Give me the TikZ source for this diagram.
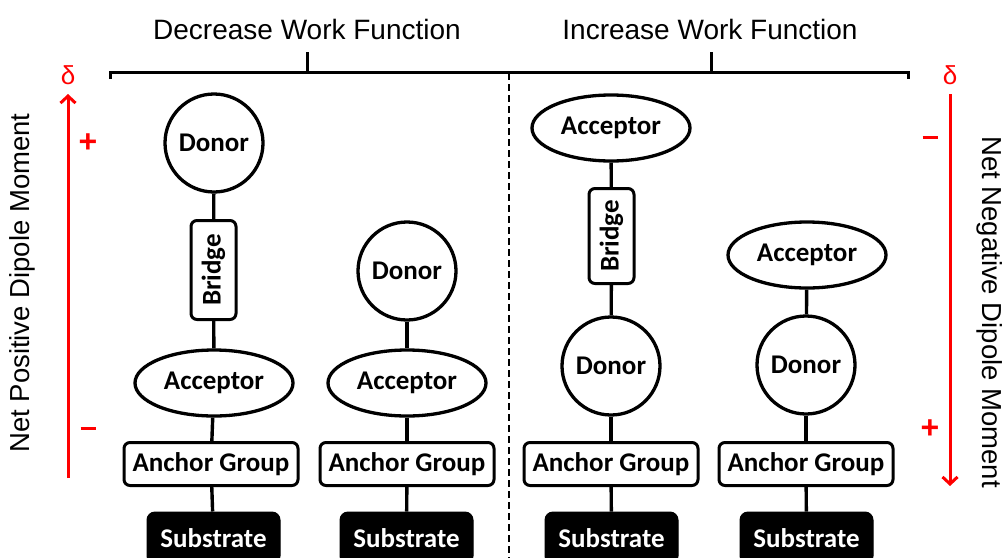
\documentclass[tikz,border=0pt]{standalone}
\usepackage{fontspec}
\setmainfont{Liberation Sans}
\newfontfamily\lblfont{Carlito}
\usetikzlibrary{shapes.geometric,arrows.meta}
\begin{document}
\begin{tikzpicture}[x=1pt,y=-1pt,
  lbl/.style={font=\lblfont\bfseries\fontsize{27}{29}\selectfont, text=black},
  donorc/.style={lbl, circle, draw, line width=3.3pt, minimum size=98pt, inner sep=0pt},
  accel/.style={lbl, ellipse, draw, line width=3.3pt, minimum width=158pt, minimum height=66pt, inner sep=0pt},
  bridgebox/.style={lbl, draw, line width=3pt, rounded corners=6pt, minimum width=45pt, inner sep=0pt},
  anchorbox/.style={lbl, draw, line width=3pt, rounded corners=6pt, minimum width=174pt, minimum height=43pt, inner sep=0pt},
  subbox/.style={lbl, text=white, fill=black, draw=black, line width=1pt, rounded corners=8pt, minimum width=133pt, minimum height=52pt, inner sep=0pt},
  link/.style={line width=3.4pt},
  brk/.style={line width=3pt},
  title/.style={font=\fontsize{28}{30}\selectfont, anchor=base},
  redmark/.style={text=red, font=\bfseries\fontsize{32}{34}\selectfont},
  redarrow/.style={red, line width=3pt},
  side/.style={font=\fontsize{27.5}{30}\selectfont}
]
\useasboundingbox (0,0) rectangle (1008,557);

% titles and bracket
\node[title] (t1) at (307,39) {Decrease Work Function};
\node[title] (t2) at (710,39) {Increase Work Function};
\coordinate (bl) at (110,79);
\coordinate (blt) at (110,72);
\coordinate (br) at (908,79);
\coordinate (brt) at (908,72);
\coordinate (k1a) at (307,52);
\coordinate (k1b) at (307,72);
\coordinate (k2a) at (711,52);
\coordinate (k2b) at (711,72);
\draw[brk] (bl) -- (blt) -- (brt) -- (br);
\draw[brk] (k1a) -- (k1b);
\draw[brk] (k2a) -- (k2b);
\coordinate (da) at (509,73);
\coordinate (db) at (509,560);
\draw[line width=2.4pt, dash pattern=on 7pt off 4pt] (da) -- (db);

% left dipole
\node[text=red, font=\fontsize{26}{28}\selectfont] (dl) at (68,75) {δ};
\coordinate (lb) at (68,478);
\coordinate (lt) at (68,94);
\draw[redarrow, -{Straight Barb[length=7pt,width=15pt,line width=3pt]}] (lb) -- (lt);
\node[redmark] (lp) at (88,143) {+};
\node[redmark] (lm) at (88,431) {\rule[0.3ex]{15pt}{3.4pt}};
\node[side, rotate=90] (ltext) at (22,283) {Net Positive Dipole Moment};

% right dipole
\node[text=red, font=\fontsize{26}{28}\selectfont] (dr) at (950,75) {δ};
\coordinate (rt) at (950,94);
\coordinate (rb) at (950,486);
\draw[redarrow, -{Straight Barb[length=7pt,width=15pt,line width=3pt]}] (rt) -- (rb);
\node[redmark] (rm) at (930,140) {\rule[0.3ex]{15pt}{3.4pt}};
\node[redmark] (rp) at (930,429) {+};
\node[side, rotate=-90] (rtext) at (990,312) {Net Negative Dipole Moment};

% column 1
\node[donorc] (d1) at (214,143) {Donor};
\node[bridgebox, minimum height=99pt] (b1) at (213.5,270) {\rotatebox{90}{Bridge}};
\node[accel] (a1) at (214,383) {Acceptor};
\node[anchorbox] (g1) at (211,464) {Anchor Group};
\node[subbox] (s1) at (213.5,538) {Substrate};
\draw[link] (d1) -- (b1);
\draw[link] (b1) -- (a1);
\draw[link] (a1) -- (g1);
\draw[link] (g1) -- (s1);

% column 2
\node[donorc] (d2) at (407,271) {Donor};
\node[accel] (a2) at (407,383) {Acceptor};
\node[anchorbox] (g2) at (407,464) {Anchor Group};
\node[subbox] (s2) at (406.5,538) {Substrate};
\draw[link] (d2) -- (a2);
\draw[link] (a2) -- (g2);
\draw[link] (g2) -- (s2);

% column 3
\node[accel] (a3) at (611,128) {Acceptor};
\node[bridgebox, minimum height=95pt] (b3) at (611.5,236) {\rotatebox{90}{Bridge}};
\node[donorc] (d3) at (611,366) {Donor};
\node[anchorbox] (g3) at (611,464) {Anchor Group};
\node[subbox] (s3) at (611.5,538) {Substrate};
\draw[link] (a3) -- (b3);
\draw[link] (b3) -- (d3);
\draw[link] (d3) -- (g3);
\draw[link] (g3) -- (s3);

% column 4
\node[accel] (a4) at (807,255) {Acceptor};
\node[donorc] (d4) at (806,365) {Donor};
\node[anchorbox] (g4) at (806,464) {Anchor Group};
\node[subbox] (s4) at (806.5,538) {Substrate};
\draw[link] (a4) -- (d4);
\draw[link] (d4) -- (g4);
\draw[link] (g4) -- (s4);
\end{tikzpicture}
\end{document}
